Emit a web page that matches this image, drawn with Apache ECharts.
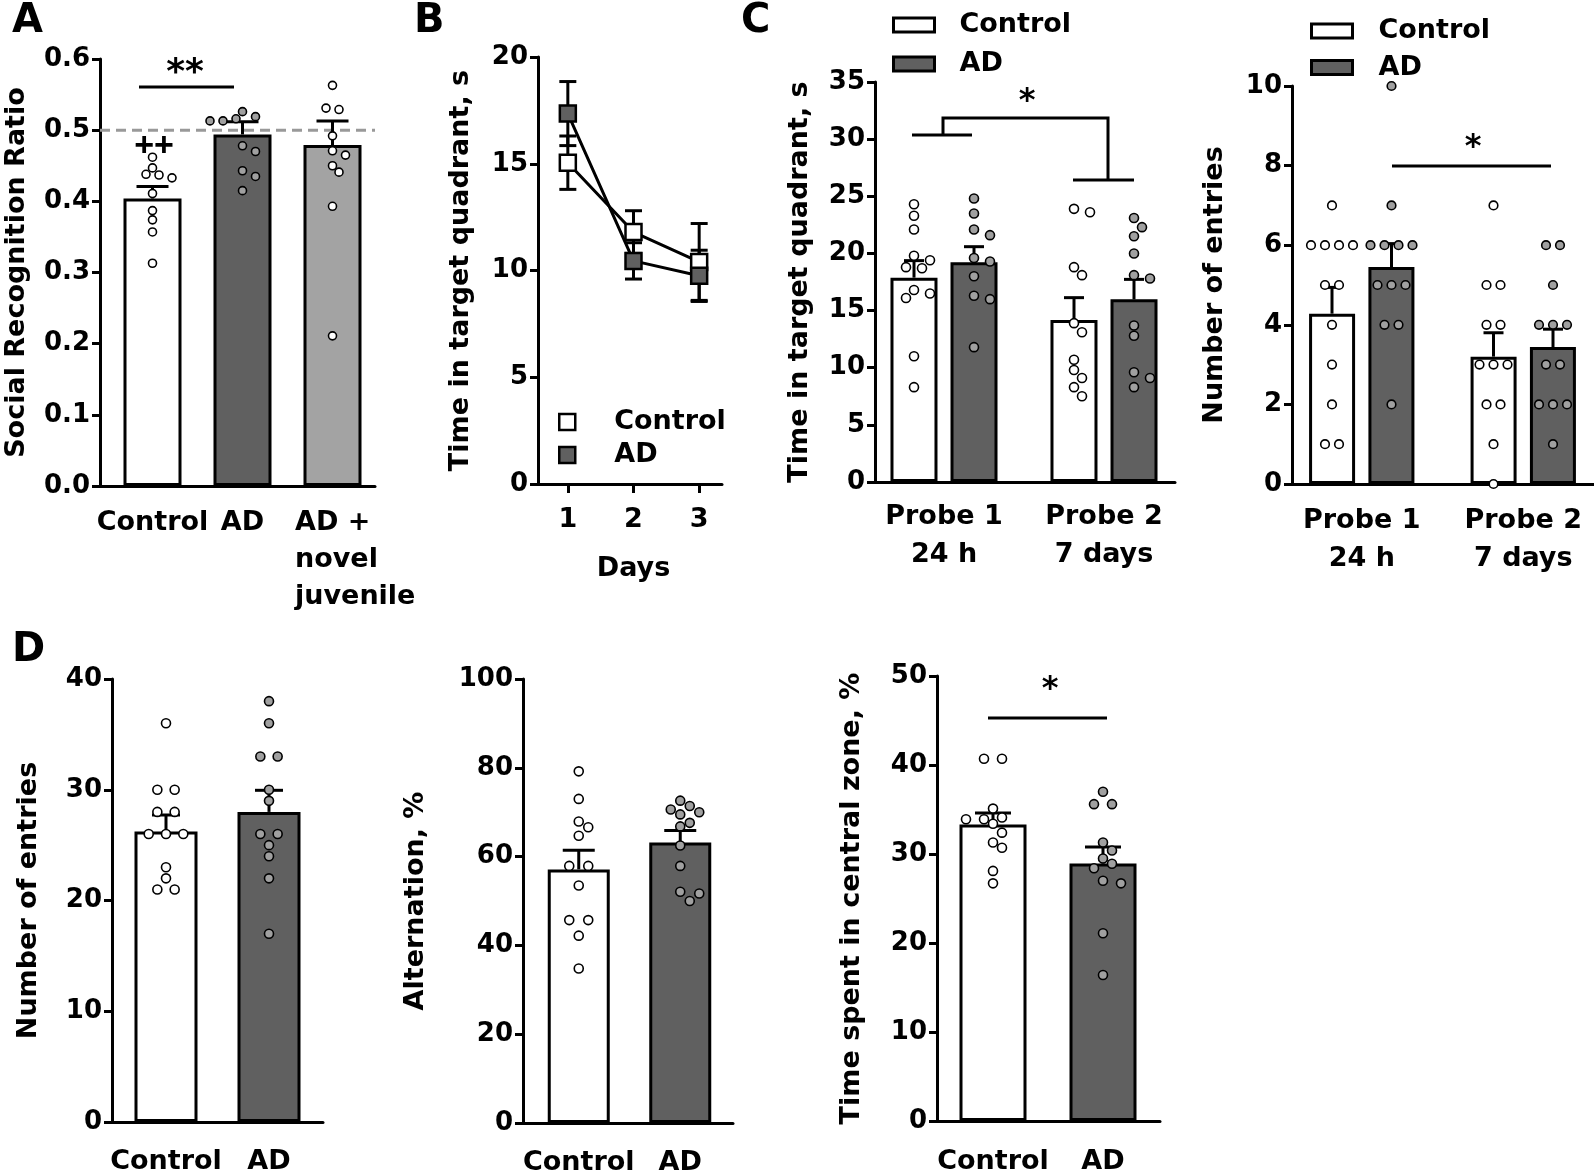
<!DOCTYPE html>
<html><head><meta charset="utf-8">
<script src="https://cdn.jsdelivr.net/npm/echarts@6/dist/echarts.min.js"></script>
<style>html,body{margin:0;padding:0;background:#fff}#c{width:1594px;height:1174px}</style>
</head><body><div id="c"></div>
<script>
// ---------------- DATA ----------------
// Panel A : social recognition
const aCats = ['Control', 'AD', 'AD +\nnovel\njuvenile'];
const aMeans = [0.404, 0.494, 0.479];
const aSems = [0.017, 0.018, 0.034];
const aDotsControl = [0.462, 0.447, 0.438, 0.433, 0.437, 0.411, 0.387, 0.374, 0.357, 0.313];
const aDotsAD = [0.526, 0.513, 0.513, 0.516, 0.519, 0.478, 0.470, 0.443, 0.435, 0.415];
const aDotsNovel = [0.563, 0.529, 0.531, 0.492, 0.465, 0.471, 0.450, 0.441, 0.393, 0.211];
const aChanceLevel = 0.5;
const aTicks = ['0.0','0.1','0.2','0.3','0.4','0.5','0.6'];

// Panel B : learning curve
const bDays = ['1', '2', '3'];
const bControl = [15.05, 11.8, 10.4];
const bControlSem = [1.25, 1.0, 1.8];
const bAD = [17.35, 10.45, 9.75];
const bADSem = [1.5, 0.85, 1.2];

// Panel C : probe trials
const probeCats = ['Probe 1\n24 h', 'Probe 2\n7 days'];
const cTimeControl = [17.88, 14.17];
const cTimeControlSem = [1.49, 1.96];
const cTimeAD = [19.22, 15.98];
const cTimeADSem = [1.37, 1.75];
const cTimeDotsControl = [
  [24.3, 23.3, 22.1, 19.4, 19.8, 18.8, 18.7, 16.8, 16.5, 16.1, 11.0, 8.3],
  [23.6, 23.9, 18.1, 18.8, 13.9, 13.1, 10.7, 9.1, 9.8, 8.3, 7.5]
];
const cTimeDotsAD = [
  [24.8, 23.5, 22.1, 21.6, 19.6, 19.3, 18.0, 16.3, 16.0, 11.8],
  [23.1, 22.3, 21.5, 20.0, 18.1, 17.8, 13.7, 12.8, 9.6, 9.1, 8.3]
];
const cEntControl = [4.28, 3.2];
const cEntControlSem = [0.66, 0.6];
const cEntAD = [5.45, 3.44];
const cEntADSem = [0.59, 0.45];
const cEntDotsControl = [
  [7, 6, 6, 6, 6, 5, 5, 4, 3, 2, 1, 1],
  [7, 5, 5, 4, 4, 3, 3, 3, 2, 2, 1, 0]
];
const cEntDotsAD = [
  [10, 7, 6, 6, 6, 6, 5, 5, 5, 4, 4, 2],
  [6, 6, 5, 4, 4, 4, 3, 3, 2, 2, 2, 1]
];

// Panel D
const dCats = ['Control', 'AD'];
const dEntMeans = [26.22, 28.0];
const dEntSems = [1.5, 1.95];
const dEntDotsControl = [36, 30, 30, 28, 28, 26, 26, 26, 23, 22, 21, 21];
const dEntDotsAD = [38, 36, 33, 33, 30, 29, 26, 26, 25, 24, 22, 17];
const dAltMeans = [57.12, 63.17];
const dAltSems = [4.3, 2.7];
const dAltDotsControl = [79.2, 73.0, 66.6, 67.9, 64.7, 57.9, 57.9, 53.5, 45.7, 45.7, 42.2, 34.8];
const dAltDotsAD = [71.4, 72.6, 69.5, 70.0, 70.6, 66.8, 67.6, 62.5, 57.9, 52.1, 51.7, 50.0];
const dCenMeans = [33.31, 28.93];
const dCenSems = [1.31, 1.87];
const dCenDotsControl = [40.7, 40.7, 35.1, 33.9, 34.1, 33.9, 33.4, 32.4, 31.3, 30.7, 28.1, 26.7];
const dCenDotsAD = [37.0, 35.6, 35.6, 31.3, 30.4, 29.5, 28.4, 28.9, 26.7, 27.0, 21.1, 16.4];

// ---------------- STYLE ----------------
const FONT = 'DejaVu Sans';
const WHITE = '#ffffff', DARK = '#606060', LIGHT = '#a3a3a3', DOTGRAY = '#a0a0a0';
const txt = (s) => ({fontFamily: FONT, fontWeight: 'bold', fontSize: s, color: '#000'});

const grids = [], xAxes = [], yAxes = [], series = [];

function addPanel(p) {
  const gi = grids.length;
  const h = p.bottom - p.top;
  grids.push({left: p.fl, top: p.top, width: p.fr - p.fl, height: h, outerBoundsMode: 'none', containLabel: false});
  grids.push({left: p.dl, top: p.top, width: p.dw, height: h, outerBoundsMode: 'none', containLabel: false});
  xAxes.push({gridIndex: gi, type: 'value', min: 0, max: 1,
    axisLine: {show: true, onZero: false, lineStyle: {color: '#000', width: 3}},
    axisTick: {show: false}, axisLabel: {show: false}, splitLine: {show: false}});
  yAxes.push({gridIndex: gi, type: 'value', min: p.min, max: p.max, interval: p.interval,
    axisLine: {show: true, onZero: false, lineStyle: {color: '#000', width: 3}},
    axisTick: {show: true, length: 8, lineStyle: {color: '#000', width: 3}},
    axisLabel: Object.assign(txt(26), {margin: 10, formatter: p.fmt}),
    splitLine: {show: false},
    name: p.name, nameLocation: 'middle', nameGap: p.nameGap, nameTextStyle: txt(27), nameMoveOverlap: false});
  xAxes.push(Object.assign({gridIndex: gi + 1, type: 'category', data: p.cats,
    axisLine: {show: false}, axisTick: p.ticks || {show: false}, splitLine: {show: false},
    axisLabel: Object.assign(txt(27), {interval: 0, margin: p.labelMargin, lineHeight: p.lineHeight}, p.labelExtra || {})
  }, p.xExtra || {}));
  yAxes.push({gridIndex: gi + 1, type: 'value', min: p.min, max: p.max, show: false});
  p.gi = gi; p.ppu = h / (p.max - p.min);
  return p;
}

// simple GraphPad-like swarm: ties spread symmetrically, near values avoid collision
function swarm(vals, ppu, d, s) {
  const idx = vals.map((v, i) => i).sort((a, b) => vals[b] - vals[a]);
  const res = new Array(vals.length).fill(0);
  const placed = [];
  const minD = d + 1;
  let k = 0;
  while (k < idx.length) {
    const g = [idx[k]];
    let j = k + 1;
    while (j < idx.length && Math.abs(vals[idx[j]] - vals[idx[k]]) * ppu < 1.5) { g.push(idx[j]); j++; }
    const n = g.length;
    const base = g.map((_, i) => (i - (n - 1) / 2) * s);
    for (let t = 0; t < 60; t++) {
      const c = t === 0 ? 0 : (t % 2 ? 1 : -1) * Math.ceil(t / 2) * s / 2;
      const ok = base.every((b, i) => placed.every(q => {
        const dx = b + c - q.x, dy = (vals[g[i]] - q.v) * ppu;
        return dx * dx + dy * dy >= minD * minD;
      }));
      if (ok) { base.forEach((b, i) => { res[g[i]] = b + c; placed.push({x: b + c, v: vals[g[i]]}); }); break; }
    }
    k = j;
  }
  return res;
}

function dotsSeries(p, entries, r, s) {
  const rows = [], fills = [];
  entries.forEach(e => {
    const fi = fills.length; fills.push(e.fill);
    const jit = swarm(e.vals, p.ppu, 2 * r, s);
    e.vals.forEach((v, k) => rows.push([e.cat, v, jit[k] + e.off, fi]));
  });
  return {type: 'custom', xAxisIndex: p.gi + 1, yAxisIndex: p.gi + 1, z: 6, silent: true,
    encode: {x: 0, y: 1}, data: rows, clip: false,
    renderItem: (params, api) => {
      const c = api.coord([api.value(0), api.value(1)]);
      return {type: 'circle', shape: {cx: c[0] + api.value(2), cy: c[1], r: r},
        style: {fill: fills[api.value(3)], stroke: '#000', lineWidth: 1.6}};
    }};
}

function errSeries(p, means, sems, off, capW, two, z) {
  return {type: 'custom', xAxisIndex: p.gi + 1, yAxisIndex: p.gi + 1, z: z || 4, silent: true,
    encode: {x: 0, y: 1}, data: means.map((m, i) => [i, m, sems[i]]), clip: false,
    renderItem: (params, api) => {
      const x = api.value(0), m = api.value(1), s = api.value(2);
      const t = api.coord([x, m + s]), b = api.coord([x, two ? m - s : m]);
      const cx = t[0] + off;
      const st = {stroke: '#000', lineWidth: 3};
      const ch = [
        {type: 'line', shape: {x1: cx, y1: b[1], x2: cx, y2: t[1]}, style: st},
        {type: 'line', shape: {x1: cx - capW / 2, y1: t[1], x2: cx + capW / 2, y2: t[1]}, style: st}
      ];
      if (two) ch.push({type: 'line', shape: {x1: cx - capW / 2, y1: b[1], x2: cx + capW / 2, y2: b[1]}, style: st});
      return {type: 'group', children: ch};
    }};
}

function barSeries(p, name, means, fill, width, gap) {
  return {type: 'bar', name: name, xAxisIndex: p.gi + 1, yAxisIndex: p.gi + 1, barWidth: width,
    barGap: gap, z: 2, silent: true,
    data: means.map((v, i) => ({value: v, itemStyle: {color: Array.isArray(fill) ? fill[i] : fill}})),
    itemStyle: {borderColor: '#000', borderWidth: 3}};
}

// ---------------- PANELS ----------------
const pA = addPanel({fl: 100, fr: 375, top: 59, bottom: 486, dl: 107.5, dw: 270, min: 0, max: 0.6, interval: 0.1,
  fmt: (v) => aTicks[Math.round(v * 10)], name: 'Social Recognition Ratio', nameGap: 70,
  cats: aCats, labelMargin: 18, lineHeight: 37,
  labelExtra: {formatter: (v, i) => i === 2 ? v.split('\n').map(s => '{j|' + s + '}').join('\n') : v,
    rich: {j: Object.assign(txt(27), {width: 75, align: 'left', lineHeight: 37})}}});
const pB = addPanel({fl: 538, fr: 722, top: 57, bottom: 484, dl: 535, dw: 197, min: 0, max: 20, interval: 5,
  name: 'Time in target quadrant, s', nameGap: 64, cats: bDays, labelMargin: 21, lineHeight: 30,
  ticks: {show: true, alignWithLabel: true, length: 9, lineStyle: {color: '#000', width: 3}},
  xExtra: {name: 'Days', nameLocation: 'middle', nameGap: 71, nameTextStyle: txt(27)}});
const pC1 = addPanel({fl: 875, fr: 1175, top: 82, bottom: 482, dl: 864, dw: 320, min: 0, max: 35, interval: 5,
  name: 'Time in target quadrant, s', nameGap: 62, cats: probeCats, labelMargin: 16, lineHeight: 38});
const pC2 = addPanel({fl: 1292, fr: 1594, top: 86, bottom: 484, dl: 1281, dw: 323, min: 0, max: 10, interval: 2,
  name: 'Number of entries', nameGap: 64, cats: probeCats, labelMargin: 18, lineHeight: 38});
const pD1 = addPanel({fl: 112, fr: 323, top: 679, bottom: 1122, dl: 114.5, dw: 206, min: 0, max: 40, interval: 10,
  name: 'Number of entries', nameGap: 70, cats: dCats, labelMargin: 25, lineHeight: 30});
const pD2 = addPanel({fl: 523, fr: 733, top: 679, bottom: 1123, dl: 528, dw: 203, min: 0, max: 100, interval: 20,
  name: 'Alternation, %', nameGap: 94, cats: dCats, labelMargin: 25, lineHeight: 30});
const pD3 = addPanel({fl: 937, fr: 1160, top: 676, bottom: 1121, dl: 938, dw: 220, min: 0, max: 50, interval: 10,
  name: 'Time spent in central zone, %', nameGap: 72, cats: dCats, labelMargin: 26, lineHeight: 30});

// A
series.push({type: 'line', xAxisIndex: pA.gi, yAxisIndex: pA.gi, z: 1, silent: true, symbol: 'none',
  data: [[0, aChanceLevel], [1, aChanceLevel]], lineStyle: {type: [10, 6], color: '#999999', width: 3}});
series.push(barSeries(pA, 'Social Recognition Ratio', aMeans, [WHITE, DARK, LIGHT], 58));
series.push(errSeries(pA, aMeans, aSems, 0, 32, false));
series.push(dotsSeries(pA, [
  {cat: 0, vals: aDotsControl, fill: WHITE, off: 0},
  {cat: 1, vals: aDotsAD, fill: DOTGRAY, off: 0},
  {cat: 2, vals: aDotsNovel, fill: WHITE, off: 0}], 4, 13));

// B
series.push(errSeries(pB, bControl, bControlSem, 0, 17, true, 2));
series.push(errSeries(pB, bAD, bADSem, 0, 17, true, 2));
series.push({type: 'line', name: 'Control', xAxisIndex: pB.gi + 1, yAxisIndex: pB.gi + 1, z: 4, silent: true,
  data: bControl, symbol: 'rect', symbolSize: 16, lineStyle: {color: '#000', width: 3},
  itemStyle: {color: WHITE, borderColor: '#000', borderWidth: 2.5}});
series.push({type: 'line', name: 'AD', xAxisIndex: pB.gi + 1, yAxisIndex: pB.gi + 1, z: 5, silent: true,
  data: bAD, symbol: 'rect', symbolSize: 16, lineStyle: {color: '#000', width: 3},
  itemStyle: {color: DARK, borderColor: '#000', borderWidth: 2.5}});

// C left
series.push(barSeries(pC1, 'Control', cTimeControl, WHITE, 47, '27.7%'));
series.push(barSeries(pC1, 'AD', cTimeAD, DARK, 47, '27.7%'));
series.push(errSeries(pC1, cTimeControl, cTimeControlSem, -30, 20, false));
series.push(errSeries(pC1, cTimeAD, cTimeADSem, 30, 20, false));
series.push(dotsSeries(pC1, [
  {cat: 0, vals: cTimeDotsControl[0], fill: WHITE, off: -30},
  {cat: 0, vals: cTimeDotsAD[0], fill: DOTGRAY, off: 30},
  {cat: 1, vals: cTimeDotsControl[1], fill: WHITE, off: -30},
  {cat: 1, vals: cTimeDotsAD[1], fill: DOTGRAY, off: 30}], 4.5, 16));

// C right
series.push(barSeries(pC2, 'Control', cEntControl, WHITE, 46, '29%'));
series.push(barSeries(pC2, 'AD', cEntAD, DARK, 46, '29%'));
series.push(errSeries(pC2, cEntControl, cEntControlSem, -29.75, 20, false));
series.push(errSeries(pC2, cEntAD, cEntADSem, 29.75, 20, false));
series.push(dotsSeries(pC2, [
  {cat: 0, vals: cEntDotsControl[0], fill: WHITE, off: -29.75},
  {cat: 0, vals: cEntDotsAD[0], fill: DOTGRAY, off: 29.75},
  {cat: 1, vals: cEntDotsControl[1], fill: WHITE, off: -29.75},
  {cat: 1, vals: cEntDotsAD[1], fill: DOTGRAY, off: 29.75}], 4.3, 14));

// D panels
[[pD1, dEntMeans, dEntSems, dEntDotsControl, dEntDotsAD, 63, 28, 17.3, 'Number of entries'],
 [pD2, dAltMeans, dAltSems, dAltDotsControl, dAltDotsAD, 62, 32, 19, 'Alternation, %'],
 [pD3, dCenMeans, dCenSems, dCenDotsControl, dCenDotsAD, 67, 36, 18, 'Time spent in central zone, %']
].forEach(([p, m, s, dc, da, bw, cap, sp, nm]) => {
  series.push(barSeries(p, nm, m, [WHITE, DARK], bw));
  series.push(errSeries(p, m, s, 0, cap, false));
  series.push(dotsSeries(p, [
    {cat: 0, vals: dc, fill: WHITE, off: 0},
    {cat: 1, vals: da, fill: DOTGRAY, off: 0}], 4.5, sp));
});

// ---------------- LEGENDS / TITLES / ANNOTATIONS ----------------
const legText = Object.assign(txt(27), {lineHeight: 30});
const legends = [
  {left: 558, top: 407, itemWidth: 16, itemHeight: 16, itemGap: 3, pad: 34, fills: [WHITE, DARK], bw: 2.5},
  {left: 892, top: 10, itemWidth: 41, itemHeight: 14, itemGap: 9, pad: 20, fills: [WHITE, DARK], bw: 3},
  {left: 1310, top: 16, itemWidth: 41, itemHeight: 14, itemGap: 6.5, pad: 21, fills: [WHITE, DARK], bw: 3}
].map(l => ({orient: 'vertical', left: l.left, top: l.top, padding: 0, itemWidth: l.itemWidth, itemHeight: l.itemHeight,
  itemGap: l.itemGap, selectedMode: false, icon: 'rect',
  textStyle: Object.assign({}, legText, {padding: [0, 0, 0, l.pad]}),
  data: ['Control', 'AD'].map((n, i) => ({name: n, icon: 'rect',
    itemStyle: {color: l.fills[i], borderColor: '#000', borderWidth: l.bw}}))}));

const letterStyle = {fontFamily: FONT, fontWeight: 'bold', fontSize: 40, color: '#000'};
const titles = [['A', 12, 2], ['B', 414, 2], ['C', 741, 2], ['D', 12, 631]].map(([t, x, y]) =>
  ({text: t, left: x, top: y, padding: 0, textStyle: letterStyle}));

const ln = (x1, y1, x2, y2) => ({type: 'line', silent: true, shape: {x1, y1, x2, y2}, style: {stroke: '#000', lineWidth: 3}});
const tx = (t, x, y, font) => ({type: 'text', silent: true, x, y, style: {text: t, font: font, fill: '#000', align: 'center', verticalAlign: 'middle'}});
const graphics = [
  ln(139, 87, 234, 87), tx('**', 185, 74, 'bold 36px "DejaVu Sans"'),
  tx('++', 154, 147, 'bold 34px "Liberation Sans"'),
  {type: 'polyline', silent: true, shape: {points: [[912, 135], [972, 135]]}, style: {stroke: '#000', lineWidth: 3, fill: null}},
  {type: 'polyline', silent: true, shape: {points: [[943, 135], [943, 118], [1108, 118], [1108, 180]]}, style: {stroke: '#000', lineWidth: 3, fill: null}},
  {type: 'polyline', silent: true, shape: {points: [[1073, 180], [1134, 180]]}, style: {stroke: '#000', lineWidth: 3, fill: null}},
  tx('*', 1027, 102, 'bold 32px "DejaVu Sans"'),
  ln(1392, 166, 1551, 166), tx('*', 1473, 148, 'bold 32px "DejaVu Sans"'),
  ln(988, 718, 1107, 718), tx('*', 1050, 690, 'bold 32px "DejaVu Sans"')
];

const chart = echarts.init(document.getElementById('c'), null, {renderer: 'canvas'});
chart.setOption({
  animation: false,
  backgroundColor: '#ffffff',
  textStyle: {fontFamily: FONT},
  title: titles,
  legend: legends,
  grid: grids,
  xAxis: xAxes,
  yAxis: yAxes,
  series: series,
  graphic: graphics
});
</script>
</body></html>
